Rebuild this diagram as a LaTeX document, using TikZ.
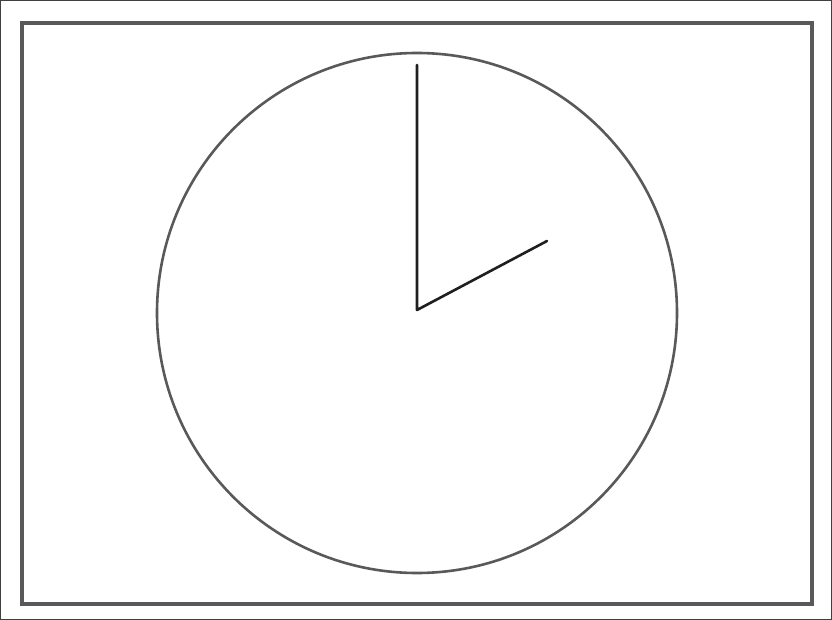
\documentclass[tikz,border=0pt]{standalone}
\begin{document}
\begin{tikzpicture}[x=1pt,y=-1pt,
  frameline/.style={draw=black!75,line width=1.2pt},
  boxline/.style={draw=black!65,line width=3.5pt},
  faceline/.style={draw=black!65,line width=2.6pt},
  handline/.style={draw=black!88,line width=2.6pt,line cap=round,line join=round}]
\useasboundingbox (0,0) rectangle (832,620);
\draw[frameline] (0.8,0.8) rectangle (831.2,619.2);
\draw[boxline] (22,23) rectangle (812,604);
\coordinate (c) at (417,310);
\coordinate (m) at (417,65);
\coordinate (h) at (547,241);
\draw[faceline] (417,313) circle[radius=260];
\draw[handline] (m) -- (c) -- (h);
\end{tikzpicture}
\end{document}
